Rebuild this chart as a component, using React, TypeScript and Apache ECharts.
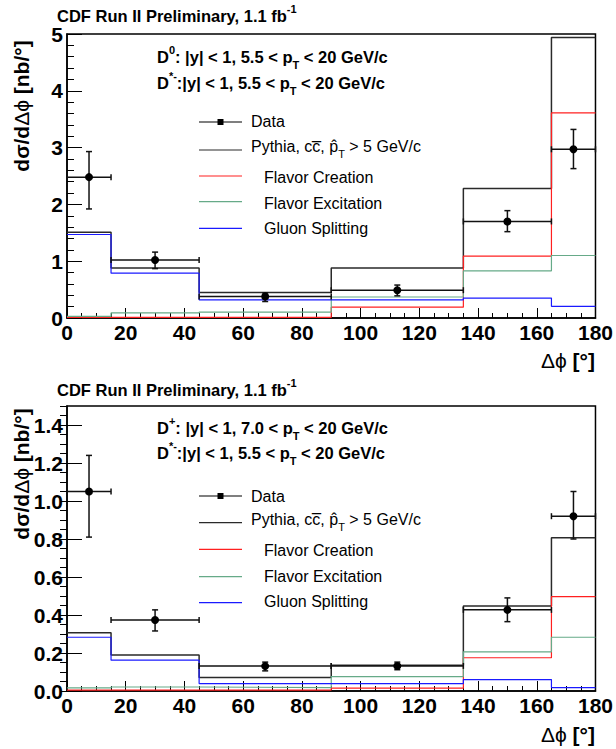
import React, { useEffect, useRef } from 'react';
import * as echarts from 'echarts';

// Bins in delta-phi (degrees)
const binEdges = [0, 15, 45, 90, 135, 165, 180];
const binCenters = [7.5, 30, 67.5, 112.5, 150, 172.5];

// Top panel: D0 / D*-
const topData = [2.48, 1.02, 0.38, 0.49, 1.7, 2.97];
const topErrUp = [0.45, 0.14, 0.06, 0.09, 0.19, 0.35];
const topErrDown = [0.56, 0.15, 0.09, 0.1, 0.18, 0.34];
const topPythia = [1.51, 0.88, 0.45, 0.88, 2.28, 4.94];
const topFlavorCreation = [0.01, 0.01, 0.01, 0.19, 1.09, 3.61];
const topFlavorExcitation = [0.03, 0.09, 0.105, 0.37, 0.83, 1.1];
const topGluonSplitting = [1.47, 0.79, 0.32, 0.32, 0.35, 0.205];

// Bottom panel: D+ / D*-
const botData = [1.05, 0.374, 0.131, 0.132, 0.427, 0.92];
const botErrUp = [0.19, 0.053, 0.021, 0.02, 0.063, 0.13];
const botErrDown = [0.24, 0.058, 0.025, 0.02, 0.062, 0.12];
const botPythia = [0.307, 0.19, 0.071, 0.135, 0.448, 0.806];
const botFlavorCreation = [0.005, 0.005, 0.005, 0.015, 0.175, 0.497];
const botFlavorExcitation = [0.016, 0.021, 0.018, 0.076, 0.206, 0.283];
const botGluonSplitting = [0.283, 0.162, 0.039, 0.039, 0.06, 0.018];

const FONT = '"Liberation Sans", Arial, Helvetica, sans-serif';
const C_PYTHIA = '#2a2a2a';
const C_FC = '#ff2020';
const C_FE = '#66aa88';
const C_GS = '#1a1aff';
const C_DATA = '#111111';

function stepPoints(vals: number[]) {
  const pts: number[][] = [];
  vals.forEach((v, i) => {
    pts.push([binEdges[i], v]);
    pts.push([binEdges[i + 1], v]);
  });
  return pts;
}

function errItems(vals: number[], up: number[], down: number[]) {
  return vals.map((v, i) => [binEdges[i], binEdges[i + 1], binCenters[i], v, up[i], down[i]]);
}

function renderErr(params: any, api: any) {
  const lo = api.value(0), hi = api.value(1), c = api.value(2);
  const v = api.value(3), u = api.value(4), d = api.value(5);
  const pL = api.coord([lo, v]);
  const pR = api.coord([hi, v]);
  const pT = api.coord([c, v + u]);
  const pB = api.coord([c, v - d]);
  const pC = api.coord([c, v]);
  const style = { stroke: C_DATA, lineWidth: 1.5 };
  const cap = 3;
  return {
    type: 'group',
    children: [
      { type: 'line', shape: { x1: pL[0], y1: pL[1], x2: pR[0], y2: pR[1] }, style },
      { type: 'line', shape: { x1: pT[0], y1: pT[1], x2: pB[0], y2: pB[1] }, style },
      { type: 'line', shape: { x1: pT[0] - cap, y1: pT[1], x2: pT[0] + cap, y2: pT[1] }, style },
      { type: 'line', shape: { x1: pB[0] - cap, y1: pB[1], x2: pB[0] + cap, y2: pB[1] }, style },
      { type: 'line', shape: { x1: pL[0], y1: pL[1] - cap, x2: pL[0], y2: pL[1] + cap }, style },
      { type: 'line', shape: { x1: pR[0], y1: pR[1] - cap, x2: pR[0], y2: pR[1] + cap }, style },
      { type: 'circle', shape: { cx: pC[0], cy: pC[1], r: 4 }, style: { fill: '#000' } },
    ],
  };
}

function histSeries(vals: number[], color: string, width: number, idx: number, yIdx: number) {
  return {
    type: 'line',
    xAxisIndex: idx,
    yAxisIndex: yIdx,
    data: stepPoints(vals),
    showSymbol: false,
    symbol: 'none',
    lineStyle: { color, width },
    silent: true,
    z: 2,
  };
}

const boldRich = {
  b: { fontFamily: FONT, fontSize: 16.5, fontWeight: 'bold', fill: '#000', lineHeight: 26 },
  s: { fontFamily: FONT, fontSize: 11, fontWeight: 'bold', fill: '#000', verticalAlign: 'top', lineHeight: 11 },
  u: { fontFamily: FONT, fontSize: 11, fontWeight: 'bold', fill: '#000', verticalAlign: 'bottom', lineHeight: 11 },
};
const regRich = {
  r: { fontFamily: FONT, fontSize: 16, fill: '#000', lineHeight: 26 },
  u: { fontFamily: FONT, fontSize: 11, fill: '#000', verticalAlign: 'bottom', lineHeight: 11 },
};
const axisRich = {
  b: { fontFamily: FONT, fontSize: 21, fontWeight: 'bold', fill: '#000' },
  g: { fontFamily: FONT, fontSize: 21, fontWeight: 'normal', fill: '#000' },
};

function richText(x: number, y: number, text: string, rich: any, align = 'left', rotation = 0) {
  return {
    type: 'text',
    x,
    y,
    rotation,
    silent: true,
    style: { text, rich, align, verticalAlign: 'middle', fill: '#000' },
  };
}

function plainText(x: number, y: number, text: string, opts: any = {}) {
  return {
    type: 'text',
    x,
    y,
    silent: true,
    rotation: opts.rotation || 0,
    style: {
      text,
      fontFamily: FONT,
      fontSize: opts.fontSize || 16,
      fontWeight: opts.fontWeight || 'normal',
      fill: '#000',
      align: opts.align || 'left',
      verticalAlign: 'middle',
    },
  };
}

function legendGraphics(rows: number[], lines: number[]) {
  const x1 = 199, x2 = 242;
  const els: any[] = [];
  const colors = [C_DATA, C_PYTHIA, C_FC, C_FE, C_GS];
  colors.forEach((c, i) => {
    els.push({
      type: 'line',
      silent: true,
      shape: { x1, y1: lines[i], x2, y2: lines[i] },
      style: { stroke: i === 0 ? '#555' : c, lineWidth: i === 0 ? 1.5 : 1.2 },
    });
  });
  els.push({ type: 'rect', silent: true, shape: { x: 217.5, y: lines[0] - 3, width: 6, height: 6 }, style: { fill: '#000' } });
  els.push(plainText(251, rows[0], 'Data'));
  els.push(richText(251, rows[1], '{r|Pythia, cc\u0305, p\u0302}{u|T}{r| > 5 GeV/c}', regRich));
  els.push(plainText(264, rows[2], 'Flavor Creation'));
  els.push(plainText(264, rows[3], 'Flavor Excitation'));
  els.push(plainText(264, rows[4], 'Gluon Splitting'));
  return els;
}

const yTitle = '{b|d\u03c3/d}{g|\u0394\u03d5}{b| [nb/\u00b0]}';
const xTitle = '{g|\u0394\u03d5}{b| [\u00b0]}';

export default function App() {
  const ref = useRef<HTMLDivElement>(null);
  useEffect(() => {
    if (!ref.current) return;
    const chart = echarts.init(ref.current, undefined, { renderer: 'svg' });
    const labelStyle = { color: '#000', fontFamily: FONT, fontSize: 21, fontWeight: 'bold' };
    const xAxisBase = {
      type: 'value',
      min: 0,
      max: 180,
      interval: 20,
      axisLine: { show: true, onZero: false, lineStyle: { color: '#000', width: 1.5 } },
      axisTick: { show: true, inside: true, length: 10, lineStyle: { color: '#000', width: 1 } },
      minorTick: { show: true, splitNumber: 4, length: 5, lineStyle: { color: '#000', width: 1 } },
      axisLabel: { ...labelStyle, margin: 4 },
      splitLine: { show: false },
      minorSplitLine: { show: false },
    };
    const option: any = {
      animation: false,
      backgroundColor: '#fff',
      grid: [
        { left: 67, top: 34, width: 529, height: 284, show: true, borderColor: '#000', borderWidth: 1.5, backgroundColor: 'transparent' },
        { left: 67, top: 406, width: 529, height: 285, show: true, borderColor: '#000', borderWidth: 1.5, backgroundColor: 'transparent' },
      ],
      xAxis: [
        { ...xAxisBase, gridIndex: 0 },
        { ...xAxisBase, gridIndex: 1 },
      ],
      yAxis: [
        {
          type: 'value', gridIndex: 0, min: 0, max: 5, interval: 1,
          axisLine: { show: true, onZero: false, lineStyle: { color: '#000', width: 1.5 } },
          axisTick: { show: true, inside: true, length: 15, lineStyle: { color: '#000', width: 1 } },
          minorTick: { show: true, splitNumber: 5, length: 7, lineStyle: { color: '#000', width: 1 } },
          axisLabel: { ...labelStyle, margin: 4 },
          splitLine: { show: false },
        },
        {
          type: 'value', gridIndex: 1, min: 0, max: 1.5, interval: 0.2,
          axisLine: { show: true, onZero: false, lineStyle: { color: '#000', width: 1.5 } },
          axisTick: { show: true, inside: true, length: 15, lineStyle: { color: '#000', width: 1 } },
          minorTick: { show: false },
          axisLabel: { ...labelStyle, margin: 4, showMaxLabel: false, formatter: (v: number) => (v > 1.45 ? '' : v.toFixed(1)) },
          splitLine: { show: false },
        },
        {
          type: 'value', gridIndex: 1, min: 0, max: 1.5, interval: 0.05,
          axisLine: { show: false },
          axisTick: { show: true, inside: true, length: 7, lineStyle: { color: '#000', width: 1 } },
          axisLabel: { show: false },
          splitLine: { show: false },
        },
      ],
      series: [
        histSeries(topPythia, C_PYTHIA, 1.5, 0, 0),
        histSeries(topFlavorCreation, C_FC, 1.2, 0, 0),
        histSeries(topFlavorExcitation, C_FE, 1.2, 0, 0),
        histSeries(topGluonSplitting, C_GS, 1.2, 0, 0),
        {
          type: 'custom', xAxisIndex: 0, yAxisIndex: 0, renderItem: renderErr,
          data: errItems(topData, topErrUp, topErrDown), z: 5, silent: true,
          encode: { x: [0, 1, 2], y: [3] },
        },
        histSeries(botPythia, C_PYTHIA, 1.5, 1, 1),
        histSeries(botFlavorCreation, C_FC, 1.2, 1, 1),
        histSeries(botFlavorExcitation, C_FE, 1.2, 1, 1),
        histSeries(botGluonSplitting, C_GS, 1.2, 1, 1),
        {
          type: 'custom', xAxisIndex: 1, yAxisIndex: 1, renderItem: renderErr,
          data: errItems(botData, botErrUp, botErrDown), z: 5, silent: true,
          encode: { x: [0, 1, 2], y: [3] },
        },
      ],
      graphic: [
        // titles
        richText(57, 16, '{b|CDF Run II Preliminary, 1.1 fb}{s|-1}', boldRich),
        richText(57, 390, '{b|CDF Run II Preliminary, 1.1 fb}{s|-1}', boldRich),
        // headers top
        richText(157, 57, '{b|D}{s|0}{b|: |y| < 1, 5.5 < p}{u|T}{b| < 20 GeV/c}', boldRich),
        richText(157, 83, '{b|D}{s|*-}{b|:|y| < 1, 5.5 < p}{u|T}{b| < 20 GeV/c}', boldRich),
        // headers bottom
        richText(157, 428, '{b|D}{s|+}{b|: |y| < 1, 7.0 < p}{u|T}{b| < 20 GeV/c}', boldRich),
        richText(157, 453, '{b|D}{s|*-}{b|:|y| < 1, 5.5 < p}{u|T}{b| < 20 GeV/c}', boldRich),
        // legends
        ...legendGraphics([121.5, 146.7, 177.5, 203.3, 228.5], [122, 150, 176, 201.7, 228.3]),
        ...legendGraphics([496.7, 519, 550.8, 576.7, 601.8], [496, 522.7, 549.3, 576.7, 602.7]),
        // axis titles
        richText(21, 106, yTitle, axisRich, 'center', Math.PI / 2),
        richText(21, 474, yTitle, axisRich, 'center', Math.PI / 2),
        richText(595, 360, xTitle, axisRich, 'right'),
        richText(595, 734, xTitle, axisRich, 'right'),
      ],
    };
    chart.setOption(option);
    return () => chart.dispose();
  }, []);
  return <div ref={ref} style={{ position: 'absolute', left: 0, top: 0, width: 616, height: 749 }} />;
}
